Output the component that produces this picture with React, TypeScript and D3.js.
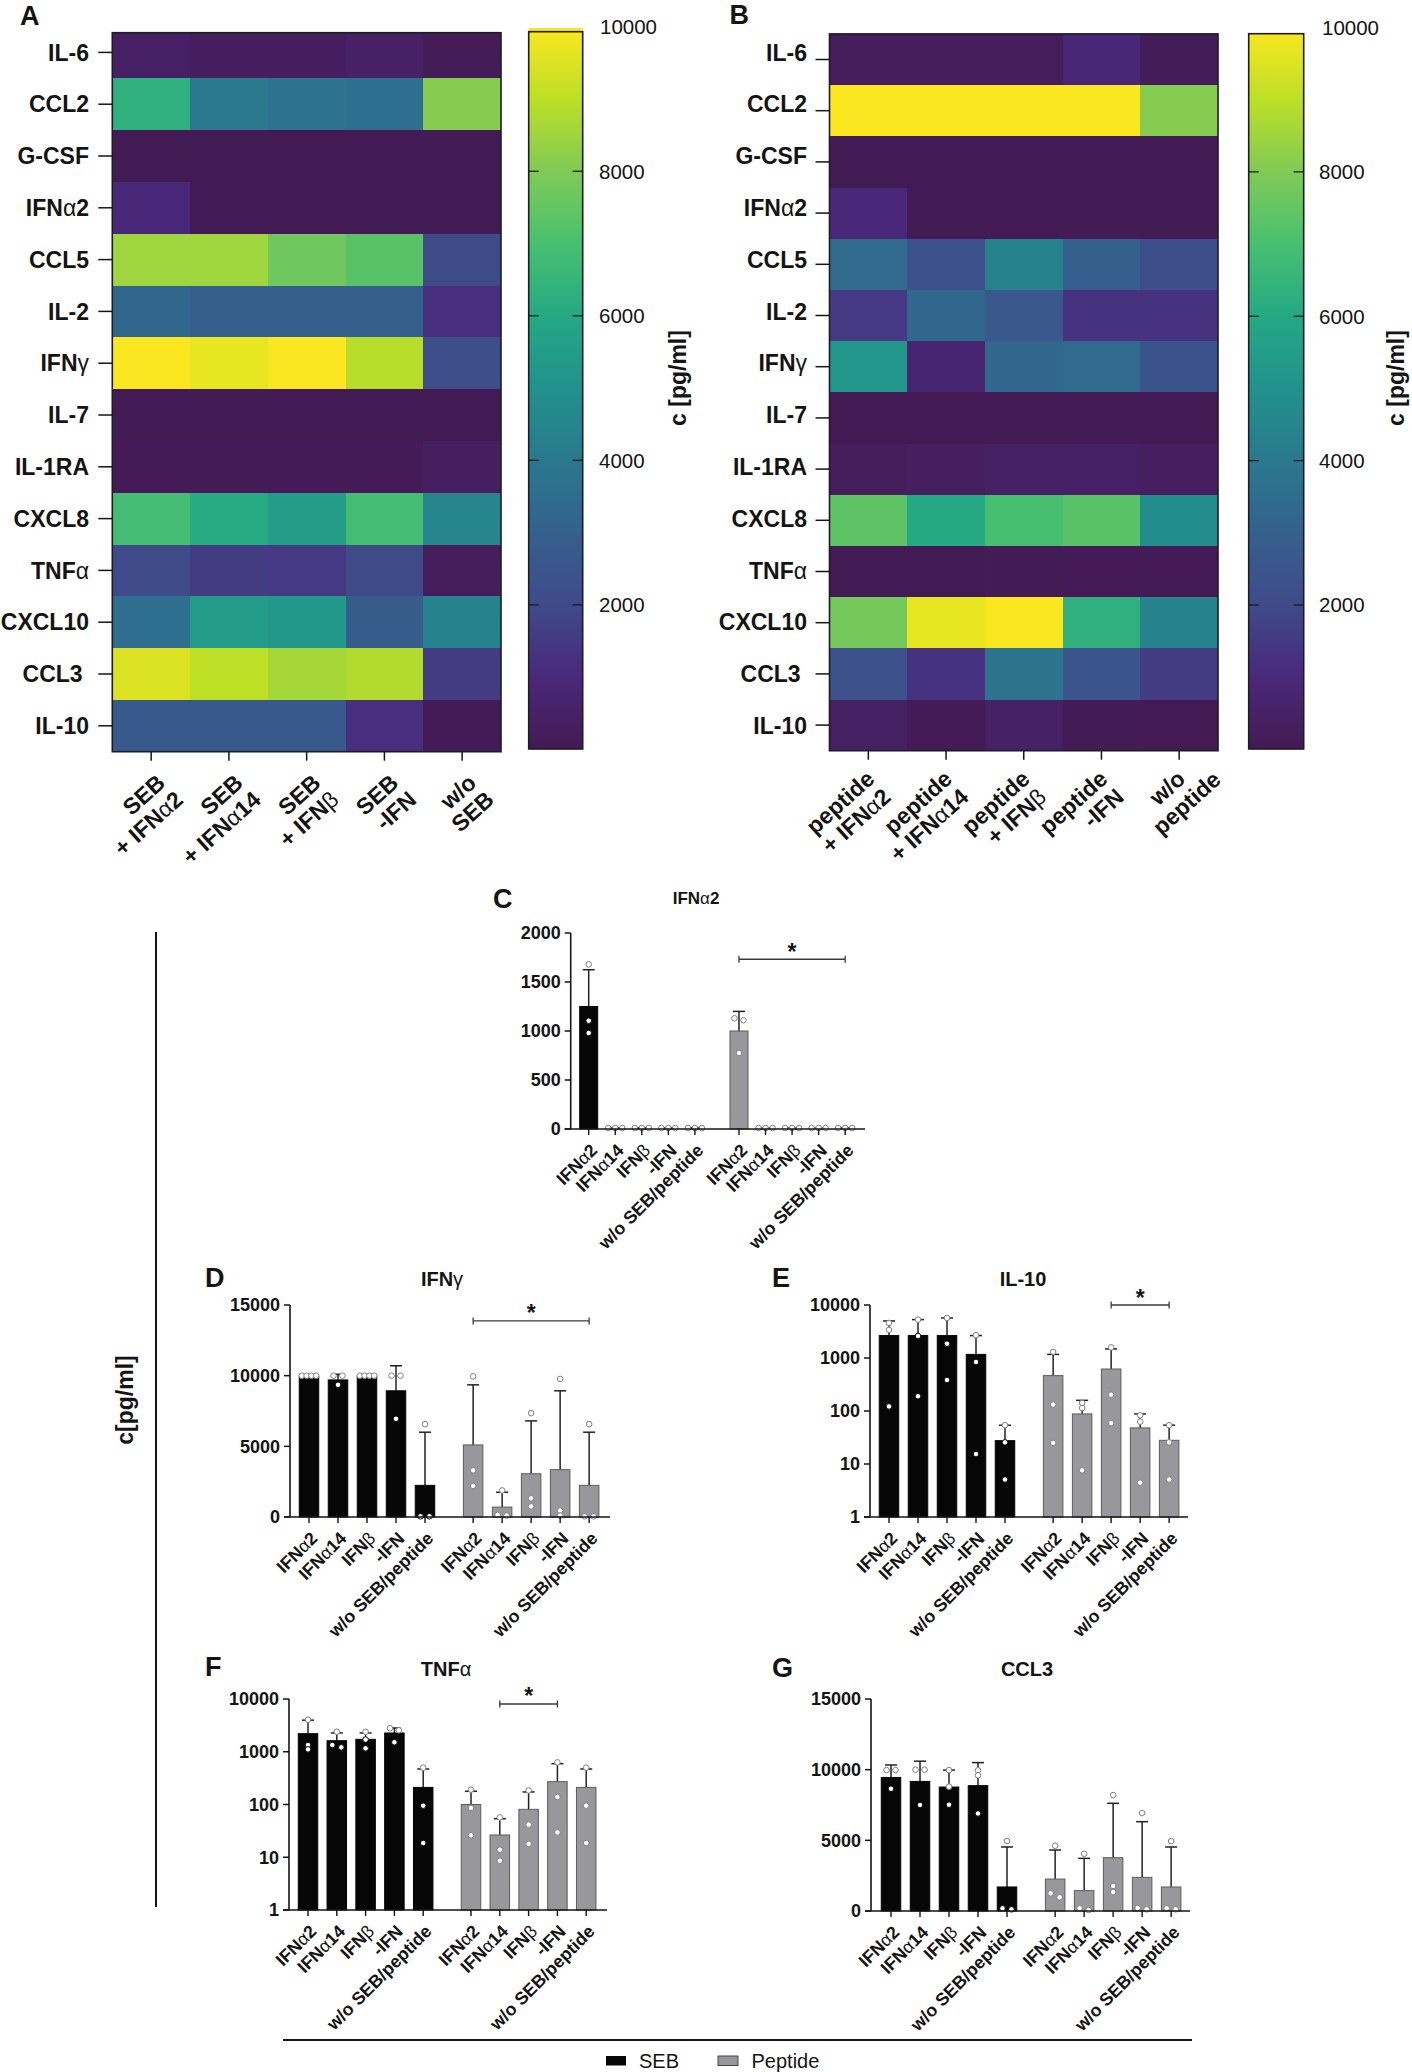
import React from "react";
import * as d3 from "d3";

// ---------- Heatmap data ----------
const cytokines = ["IL-6","CCL2","G-CSF","IFNα2","CCL5","IL-2","IFNγ","IL-7","IL-1RA","CXCL8","TNFα","CXCL10","CCL3\u00a0","IL-10"];
const sebColumns = [["SEB","+ IFNα2"],["SEB","+ IFNα14"],["SEB","+ IFNβ"],["SEB","-IFN"],["w/o","SEB"]];
const peptideColumns = [["peptide","+ IFNα2"],["peptide","+ IFNα14"],["peptide","+ IFNβ"],["peptide","-IFN"],["w/o","peptide"]];
const heatSEB = [
  [450,320,320,500,110],
  [6300,3950,3750,3600,8100],
  [60,60,60,60,60],
  [1000,60,60,60,60],
  [8500,8500,7700,7300,2000],
  [3300,3000,3000,3000,1200],
  [10000,9700,10000,8900,2200],
  [40,40,40,40,40],
  [100,100,100,100,350],
  [6900,6100,5500,6900,4500],
  [2000,1600,1500,2000,200],
  [3600,5400,5300,2800,4400],
  [9500,9000,8600,8800,1600],
  [2700,2700,2700,1200,100],
];
const heatPeptide = [
  [200,200,200,900,150],
  [10000,10000,10000,10000,8100],
  [60,60,60,60,60],
  [1000,60,60,60,60],
  [3400,2300,4400,3000,2200],
  [1500,3300,2600,1300,1300],
  [5200,800,3300,3400,2400],
  [30,30,30,30,30],
  [200,350,400,450,350],
  [7400,6000,7000,7300,4800],
  [60,60,80,100,100],
  [7800,9700,10000,6300,4400],
  [2300,1300,3800,2500,1600],
  [400,100,500,70,30],
];
const colorbarTicks = [2000,4000,6000,8000,10000];
const colorStops = ["#431a52","#49287a","#3f4a89","#35608d","#2a788e","#21918c","#24a984","#48bf70","#80ca55","#bddf26","#fbe71f"];

// ---------- Bar chart data (means, upper error limits, replicate points) ----------
const barLabels = ["IFNα2","IFNα14","IFNβ","-IFN","w/o SEB/peptide"];

const ifna2Means = [1250,10,10,10,10, 1000,10,10,10,10];
const ifna2Errors = [1625,12,12,12,12, 1200,12,12,12,12];
const ifna2Points = [[1680,1105,980],[10,10,10],[10,10,10],[10,10,10],[10,10,10],[1130,1110,775],[10,10,10],[10,10,10],[10,10,10],[10,10,10]];

const ifngMeans = [9950,9700,9950,8930,2240, 5100,700,3060,3350,2240];
const ifngErrors = [10000,10100,10000,10700,6000, 9350,1750,6800,8930,6000];
const ifngPoints = [[10000,10000,10000,10000],[10000,10000,9350],[10000,10000,10000,10000],[10000,10000,6950],[6570,50,50],[9950,3300,2200],[1880,100,150],[7350,1320,750],[9770,450,100],[6570,50,50]];

const il10Means = [2650,2650,2650,1170,27.6, 465,88,620,48,28];
const il10Errors = [5000,5300,5700,2650,53.8, 1170,159,1480,88,54];
const il10Points = [[4580,3400,122],[5300,2600,190],[5700,1860,385],[2700,840,15.4],[54,25.6,5.1],[1300,132,25],[142,114,7.6],[1590,203,59],[83,63,4.45],[54,25.6,5.1]];

const tnfMeans = [2200,1620,1720,2270,211, 100,26.4,81,271,211];
const tnfErrors = [3970,2270,2270,2820,471, 178,53.8,173,594,471];
const tnfPoints = [[4050,1340,1110],[2400,1210,1340],[2390,1700,1160],[2790,2550,1510],[500,95,18.6],[191,86,26],[57,13.9,8.6],[185,41.5,18],[630,139,29.6],[500,95,18.6]];

const ccl3Means = [9450,9170,8770,8870,1700, 2260,1440,3770,2380,1700];
const ccl3Errors = [10330,10600,9970,10500,4530, 4315,3725,7620,6320,4530];
const ccl3Points = [[9970,9970,8650],[10000,10000,7500],[9970,8800,7520],[9950,9600,6900],[4950,120,190],[4620,970,1250],[4050,70,190],[8200,1770,1340],[6930,120,210],[4950,120,190]];

const linearTicks2000 = [0,500,1000,1500,2000];
const linearTicks15000 = [0,5000,10000,15000];
const logTicks = [1,10,100,1000,10000];

const FONT = "'Liberation Sans', Arial, sans-serif";
const INK = "#141414";

const rich = (s: string) =>
  s.split(/([αβγ])/).map((p, i) =>
    /[αβγ]/.test(p) ? <tspan key={i} fontWeight={400}>{p}</tspan> : <React.Fragment key={i}>{p}</React.Fragment>
  );

const heatColor = d3.scaleSequential(d3.piecewise(d3.interpolateRgb, colorStops)).domain([0, 10000]);
const labelBand = d3.scaleBand<string>().domain(cytokines).range([26.5, 751.7]);

type HeatProps = {
  id: string; columns: string[][]; values: number[][];
  left: number; right: number; top: number; bandTop: number; bottom: number;
  tickLen: number; labelRight: number;
  cbLeft: number; cbRight: number; cbTop: number; cbGradTop: number; cbBottom: number; cb10000: number; cbLabelX: number; cbLabelX10000: number;
  titleX: number; line1: [number, number]; line2Shift: number; extraShift: number;
};

function Heat(p: HeatProps) {
  const xs = d3.scaleBand<number>().domain(d3.range(p.columns.length)).range([p.left, p.right]);
  const ys = d3.scaleBand<string>().domain(cytokines).range([p.bandTop, p.bottom]);
  const cb = d3.scaleLinear().domain([0, 10000]).range([p.cbBottom + 0.4, p.cb10000]);
  const gradValues = d3.range(0, 10001, 500);
  return (
    <g fontFamily={FONT}>
      <defs>
        <clipPath id={p.id}><rect x={p.left} y={p.top} width={p.right - p.left} height={p.bottom - p.top} /></clipPath>
        <linearGradient id={`${p.id}-grad`} gradientUnits="userSpaceOnUse" x1={0} x2={0} y1={cb(0)} y2={cb(10000)}>
          {gradValues.map((v) => <stop key={v} offset={v / 10000} stopColor={heatColor(v)} />)}
        </linearGradient>
      </defs>
      <g clipPath={`url(#${p.id})`} shapeRendering="crispEdges">
        {p.values.map((row, r) => row.map((v, c) => (
          <rect key={`${r}-${c}`} x={xs(c)} y={ys(cytokines[r])} width={xs.bandwidth() + 0.5} height={ys.bandwidth() + 0.5} fill={heatColor(v)} />
        )))}
      </g>
      <rect x={p.left} y={p.top} width={p.right - p.left} height={p.bottom - p.top} fill="none" stroke="#1c1c24" strokeWidth={1.6} />
      {cytokines.map((name) => (
        <g key={name}>
          <line x1={p.left - p.tickLen} x2={p.left} y1={ys(name)! + ys.bandwidth() / 2} y2={ys(name)! + ys.bandwidth() / 2} stroke={INK} strokeWidth={1.5} />
          <text x={p.labelRight} y={labelBand(name)! + labelBand.bandwidth() / 2} dy="0.36em" textAnchor="end" fontWeight={700} fontSize={23} fill={INK}>{rich(name)}</text>
        </g>
      ))}
      {p.columns.map((lines, i) => {
        const cx = xs(i)! + xs.bandwidth() / 2;
        const shift = (lines[0] === "w/o" ? p.extraShift : 0) + p.line2Shift;
        return (
          <g key={i}>
            <line x1={cx} x2={cx} y1={p.bottom} y2={p.bottom + 9} stroke={INK} strokeWidth={1.5} />
            <g transform={`translate(${cx + p.line1[0]},${p.bottom + p.line1[1]}) rotate(-42)`} fontWeight={700} fontSize={23} fill={INK} textAnchor="end">
              <text dy="0.36em">{rich(lines[0])}</text>
              <text x={shift} dy="1.42em">{rich(lines[1])}</text>
            </g>
          </g>
        );
      })}
      <rect x={p.cbLeft} width={p.cbRight - p.cbLeft} y={p.cbGradTop} height={p.cbBottom - p.cbGradTop} fill={`url(#${p.id}-grad)`} />
      <rect x={p.cbLeft} y={p.cbTop} width={p.cbRight - p.cbLeft} height={p.cbBottom - p.cbTop} fill="none" stroke="#1c1c24" strokeWidth={1.6} />
      {colorbarTicks.map((t) => (
        <g key={t}>
          {t < 10000 && <line x1={p.cbLeft} x2={p.cbLeft + 10} y1={cb(t)} y2={cb(t)} stroke={INK} strokeWidth={1.2} />}
          {t < 10000 && <line x1={p.cbRight - 10} x2={p.cbRight} y1={cb(t)} y2={cb(t)} stroke={INK} strokeWidth={1.2} />}
          <text x={t === 10000 ? p.cbLabelX10000 : p.cbLabelX} y={cb(t)} dy="0.36em" fontSize={20.5} fill={INK}>{t}</text>
        </g>
      ))}
      <text transform={`translate(${p.titleX},378) rotate(-90)`} textAnchor="middle" dy="0.35em" fontWeight={700} fontSize={23} fill={INK}>c [pg/ml]</text>
    </g>
  );
}

type BarProps = {
  title: string; titleX: number; titleY: number; titleSize: number;
  axisX: number; axisEnd: number; yTop: number; yBase: number; x0: number; step: number; barWidth: number;
  log: boolean; domain: [number, number]; ticks: number[];
  means: number[]; errors: number[]; points: number[][];
  bracket?: { from: number; to: number; at: number };
};

const GROUP_GAP = 5.66;
const slots = d3.range(10).map((i) => (i < 5 ? i : i + GROUP_GAP - 5));

function Bars(p: BarProps) {
  const y: any = p.log
    ? d3.scaleLog().domain(p.domain).range([p.yBase, p.yTop])
    : d3.scaleLinear().domain(p.domain).range([p.yBase, p.yTop]);
  const x = d3.scaleLinear().domain([0, 1]).range([p.x0, p.x0 + p.step]);
  const placePoints = (vals: number[]) => {
    const sorted = vals.map((v) => ({ v, py: y(v), dx: 0 })).sort((a, b) => a.py - b.py);
    const groups: (typeof sorted)[] = [];
    sorted.forEach((pt) => {
      const g = groups[groups.length - 1];
      if (g && pt.py - g[g.length - 1].py <= 4.1) g.push(pt);
      else groups.push([pt]);
    });
    groups.forEach((g) => {
      const gap = g.length === 2 ? 9 : g.length === 3 ? 7 : 4.8;
      g.forEach((pt, i) => { pt.dx = (i - (g.length - 1) / 2) * gap; });
    });
    return sorted;
  };
  return (
    <g fontFamily={FONT}>
      <text x={p.titleX} y={p.titleY} dy="0.36em" textAnchor="middle" fontWeight={700} fontSize={p.titleSize} fill={INK}>{rich(p.title)}</text>
      {p.means.map((m, i) => {
        const cx = x(slots[i]);
        const seb = i < 5;
        return (
          <g key={i}>
            <line x1={cx} x2={cx} y1={y(m)} y2={y(p.errors[i])} stroke="#222" strokeWidth={1.5} />
            <line x1={cx - 6} x2={cx + 6} y1={y(p.errors[i])} y2={y(p.errors[i])} stroke="#222" strokeWidth={1.5} />
            <rect x={cx - p.barWidth / 2} y={y(m)} width={p.barWidth} height={p.yBase - y(m)} fill={seb ? "#060606" : "#98989c"} stroke={seb ? "#060606" : "#5c5c5f"} strokeWidth={1} />
            {placePoints(p.points[i]).map((pt, k) => (
              <circle key={k} cx={cx + pt.dx} cy={pt.py} r={2.8} fill="#fff" stroke={seb && pt.py > y(m) ? "#060606" : "#808080"} strokeWidth={1} />
            ))}
          </g>
        );
      })}
      <line x1={p.axisX} x2={p.axisX} y1={p.yTop} y2={p.yBase} stroke={INK} strokeWidth={1.6} />
      <line x1={p.axisX - 6} x2={p.axisEnd} y1={p.yBase} y2={p.yBase} stroke={INK} strokeWidth={1.6} />
      {p.ticks.map((t) => (
        <g key={t}>
          <line x1={p.axisX - 6} x2={p.axisX} y1={y(t)} y2={y(t)} stroke={INK} strokeWidth={1.5} />
          <text x={p.axisX - 10} y={y(t)} dy="0.36em" textAnchor="end" fontWeight={700} fontSize={18} fill={INK}>{t}</text>
        </g>
      ))}
      {slots.map((s, i) => (
        <g key={i}>
          <line x1={x(s)} x2={x(s)} y1={p.yBase} y2={p.yBase + 6} stroke={INK} strokeWidth={1.4} />
          <text transform={`translate(${x(s) + 5},${p.yBase + 18}) rotate(-45)`} dy="0.36em" textAnchor="end" fontWeight={700} fontSize={17.8} fill={INK}>{rich(barLabels[i % 5])}</text>
        </g>
      ))}
      {p.bracket && (() => {
        const b = p.bracket!;
        const a = x(slots[b.from]), c = x(slots[b.to]), by = y(b.at);
        return (
          <g stroke="#3a3a3a" strokeWidth={1.3}>
            <line x1={a} x2={c} y1={by} y2={by} />
            <line x1={a} x2={a} y1={by - 3.5} y2={by + 3.5} />
            <line x1={c} x2={c} y1={by - 3.5} y2={by + 3.5} />
            <text x={(a + c) / 2} y={by + 0.5} textAnchor="middle" fontWeight={700} fontSize={23} fill={INK} stroke="none">*</text>
          </g>
        );
      })()}
    </g>
  );
}

const panelLetters: [string, number, number][] = [
  ["A", 20, 25], ["B", 729.5, 24], ["C", 493, 908], ["D", 205, 1287], ["E", 772, 1287], ["F", 205, 1676], ["G", 772, 1677],
];

export default function App() {
  return (
    <svg width={1412} height={2072} viewBox="0 0 1412 2072" style={{ position: "absolute", left: 0, top: 0, background: "#fff" }}>
      <Heat id="clipA" columns={sebColumns} values={heatSEB} left={112.3} right={501} top={32.7} bandTop={26.5} bottom={751.7}
        tickLen={14} labelRight={89} cbLeft={528.7} cbRight={582.7} cbTop={31.7} cbGradTop={28} cbBottom={749} cb10000={26.7}
        cbLabelX={599} cbLabelX10000={600} titleX={678} line1={[10, 27]} line2Shift={2} extraShift={0} />
      <Heat id="clipB" columns={peptideColumns} values={heatPeptide} left={829.5} right={1218} top={33.9} bandTop={33.9} bottom={750.7}
        tickLen={14} labelRight={807} cbLeft={1248.7} cbRight={1303.7} cbTop={33.7} cbGradTop={33.7} cbBottom={749} cb10000={27.5}
        cbLabelX={1319} cbLabelX10000={1322} titleX={1396} line1={[2, 24]} line2Shift={0} extraShift={26} />

      <Bars title="IFNα2" titleX={696} titleY={898} titleSize={17} axisX={570.7} axisEnd={865} yTop={933} yBase={1129} x0={588.7} step={26.55} barWidth={18}
        log={false} domain={[0, 2000]} ticks={linearTicks2000} means={ifna2Means} errors={ifna2Errors} points={ifna2Points} bracket={{ from: 5, to: 9, at: 1732 }} />
      <Bars title="IFNγ" titleX={442} titleY={1279} titleSize={20} axisX={290} axisEnd={610} yTop={1305} yBase={1517} x0={309} step={29} barWidth={19.5}
        log={false} domain={[0, 15000]} ticks={linearTicks15000} means={ifngMeans} errors={ifngErrors} points={ifngPoints} bracket={{ from: 5, to: 9, at: 13870 }} />
      <Bars title="IL-10" titleX={1023} titleY={1279} titleSize={20} axisX={870} axisEnd={1188} yTop={1305} yBase={1517} x0={889} step={29} barWidth={19.5}
        log={true} domain={[1, 10000]} ticks={logTicks} means={il10Means} errors={il10Errors} points={il10Points} bracket={{ from: 7, to: 9, at: 10000 }} />
      <Bars title="TNFα" titleX={446} titleY={1669} titleSize={20} axisX={289} axisEnd={607} yTop={1699} yBase={1910} x0={308} step={28.8} barWidth={19.5}
        log={true} domain={[1, 10000]} ticks={logTicks} means={tnfMeans} errors={tnfErrors} points={tnfPoints} bracket={{ from: 6, to: 8, at: 8040 }} />
      <Bars title="CCL3" titleX={1027} titleY={1669} titleSize={20} axisX={871} axisEnd={1190} yTop={1699} yBase={1911} x0={891} step={29} barWidth={19.5}
        log={false} domain={[0, 15000]} ticks={linearTicks15000} means={ccl3Means} errors={ccl3Errors} points={ccl3Points} />

      <g fontFamily={FONT} fill={INK}>
        {panelLetters.map(([t, x, y]) => (
          <text key={t} x={x} y={y} fontWeight={700} fontSize={27}>{t}</text>
        ))}
        <line x1={156} x2={156} y1={932} y2={1907} stroke={INK} strokeWidth={2} />
        <text transform="translate(125,1400) rotate(-90)" textAnchor="middle" dy="0.35em" fontWeight={700} fontSize={23}>c[pg/ml]</text>
        <line x1={283} x2={1192} y1={2040} y2={2040} stroke={INK} strokeWidth={2} />
        <rect x={606} y={2056} width={20} height={9.5} fill="#060606" />
        <text x={639} y={2067.5} fontSize={20}>SEB</text>
        <rect x={718} y={2056} width={20} height={9.5} fill="#98989c" stroke="#444" strokeWidth={1} />
        <text x={751.5} y={2067.5} fontSize={20}>Peptide</text>
      </g>
    </svg>
  );
}
